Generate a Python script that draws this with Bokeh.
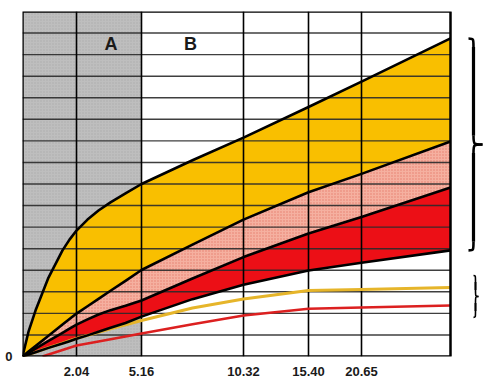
import numpy as np
from bokeh.plotting import figure
from bokeh.models import Range1d, FixedTicker
from bokeh.core.properties import value
from bokeh.embed import file_html
from bokeh.resources import INLINE

# ---- axis definition (column rules of the chart) ----
x_tick_pos = [0, 54, 119, 221, 286, 339]
x_tick_labels = ["", "2.04", "5.16", "10.32", "15.40", "20.65"]
x_end = 428
y_max = 16
region_labels = ["A", "B"]

# ---- series ----
xs = [0, 6, 13, 26, 40, 47, 54, 65, 76, 88, 103, 119, 170, 221, 286, 339, 428]
upper = [0, 1.15, 2.13, 3.66, 4.92, 5.42, 5.84, 6.35, 6.77, 7.15, 7.56, 8.0, 9.1, 10.15, 11.57, 12.75, 14.75]
pink_top = [0, 0.23, 0.48, 0.96, 1.48, 1.74, 1.99, 2.33, 2.67, 3.05, 3.51, 4.01, 5.19, 6.35, 7.62, 8.47, 9.97]
red_top = [0, 0.17, 0.37, 0.73, 1.1, 1.29, 1.48, 1.72, 1.95, 2.15, 2.35, 2.6, 3.62, 4.61, 5.70, 6.47, 7.84]
red_bottom = [0, 0.09, 0.2, 0.4, 0.6, 0.71, 0.82, 0.98, 1.15, 1.33, 1.55, 1.85, 2.66, 3.33, 3.99, 4.35, 4.92]
gold_line = [0, 0.09, 0.2, 0.41, 0.62, 0.73, 0.84, 0.98, 1.12, 1.28, 1.47, 1.67, 2.25, 2.67, 3.06, 3.11, 3.20]

xs_red = [20, 40, 54, 76, 103, 119, 170, 221, 286, 339, 428]
red_line = [0, 0.3, 0.51, 0.70, 0.93, 1.07, 1.5, 1.9, 2.21, 2.27, 2.37]

p = figure(width=488, height=382, output_backend="svg", toolbar_location=None,
           x_range=Range1d(0, 466), y_range=Range1d(0, y_max),
           min_border_left=22, min_border_right=0, min_border_top=11, min_border_bottom=26)
p.outline_line_color = None
p.xgrid.visible = False
p.ygrid.visible = False
p.background_fill_color = "white"

# shaded region A
p.quad(left=[x_tick_pos[0]], right=[x_tick_pos[2]], bottom=[0], top=[y_max],
       fill_color="#bebebe", line_color=None,
       hatch_pattern="dot", hatch_color="#8a8a8a", hatch_alpha=0.35, hatch_scale=3)

# bands
p.varea(x=xs, y1=pink_top, y2=upper, fill_color="#f9bf00")
p.varea(x=xs, y1=red_top, y2=pink_top, fill_color="#f5b0a0",
        hatch_pattern="dot", hatch_color="#d2402e", hatch_alpha=0.45, hatch_scale=3)
p.varea(x=xs, y1=red_bottom, y2=red_top, fill_color="#ec0f16")

# rules
hy = list(range(1, y_max))
p.segment(x0=[0] * len(hy), x1=[x_end] * len(hy), y0=hy, y1=hy,
          line_color="#2a2a2a", line_width=1.4, line_alpha=0.9)
vx = x_tick_pos[1:]
p.segment(x0=vx, x1=vx, y0=[0] * len(vx), y1=[y_max] * len(vx),
          line_color="black", line_width=1.6)

# thin lines
p.line(xs, gold_line, line_color="#e6b52a", line_width=3, line_join="round")
p.line(xs_red, red_line, line_color="#dc2020", line_width=2.5, line_join="round")

# band boundaries
for ys in (upper, pink_top, red_top, red_bottom):
    p.line(xs, ys, line_color="black", line_width=2.6, line_join="round")

# frame
p.quad(left=[0], right=[x_end], bottom=[0], top=[y_max], fill_color=None,
       line_color="black", line_width=2.5)

# region labels
p.text(x=[(x_tick_pos[1] + x_tick_pos[2]) / 2 + 2, (x_tick_pos[2] + x_tick_pos[3]) / 2 - 2],
       y=[y_max - 1.5] * 2, text=region_labels,
       text_font=value("Liberation Sans"), text_font_style="bold", text_font_size="18px",
       text_color="#1a1a1a", text_align="center", text_baseline="middle")

# braces
def brace(xl, xc, xt, yb, yt, r, lw):
    ym = (yb + yt) / 2
    bz = dict(x0=[xl, xc, xt, xc], y0=[yt, ym + r, ym, yb + r],
              x1=[xc, xt, xc, xl], y1=[yt - r, ym, ym - r, yb],
              cx0=[xc, xc, xc, xc], cy0=[yt, ym, ym, yb],
              cx1=[xc, xc, xc, xc], cy1=[yt, ym, ym, yb])
    p.bezier(**bz, line_color="black", line_width=lw - 0.6)
    p.segment(x0=[xc, xc], x1=[xc, xc], y0=[yt - r, ym - r], y1=[ym + r, yb + r],
              line_color="black", line_width=lw)

brace(x_end + 18, x_end + 23, x_end + 32, red_bottom[-1], upper[-1], 0.4, 3.2)
mid = (gold_line[-1] + red_line[-1]) / 2
brace(x_end + 23, x_end + 25, x_end + 28, mid - 0.97, mid + 0.97, 0.3, 2.2)

# axes
p.xaxis.ticker = FixedTicker(ticks=x_tick_pos[1:])
p.xaxis.major_label_overrides = {t: l for t, l in zip(x_tick_pos, x_tick_labels)}
p.yaxis.ticker = FixedTicker(ticks=[0])
for ax in (p.xaxis, p.yaxis):
    ax.axis_line_color = None
    ax.major_tick_line_color = None
    ax.minor_tick_line_color = None
    ax.major_tick_out = 0
    ax.major_tick_in = 0
    ax.major_label_text_font = "Liberation Sans"
    ax.major_label_text_font_style = "bold"
    ax.major_label_text_font_size = "13px"
    ax.major_label_text_color = "#1a1a1a"
p.xaxis.major_label_standoff = 10
p.yaxis.major_label_standoff = 10

open("out.html", "w").write(file_html(p, INLINE))
